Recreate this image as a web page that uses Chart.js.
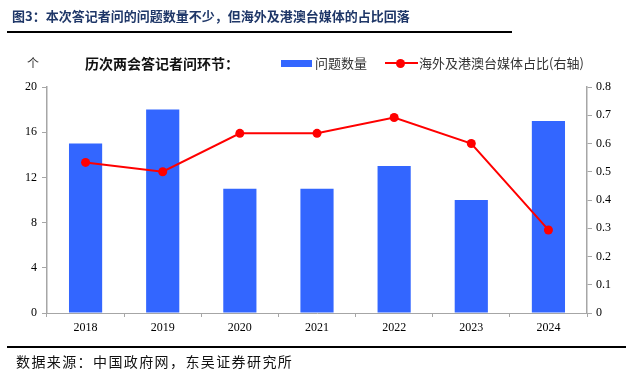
<!DOCTYPE html>
<html><head><meta charset="utf-8">
<script src="https://cdn.jsdelivr.net/npm/chart.js@4/dist/chart.umd.min.js"></script>
<style>
html,body{margin:0;padding:0;background:#fff;}
#wrap{position:relative;width:638px;height:376px;overflow:hidden;font-family:"Noto Sans CJK SC",sans-serif;}
#c{position:absolute;left:0;top:0;}
.abs{position:absolute;white-space:nowrap;}
</style></head><body>
<div id="wrap">
<canvas id="c" width="638" height="376"></canvas>
<div class="abs" style="left:12px;top:6px;font-size:13px;font-weight:bold;color:#1f3768;line-height:20px;">图3：本次答记者问的问题数量不少，但海外及港澳台媒体的占比回落</div>
<div class="abs" style="left:7px;top:31px;width:505px;height:1.5px;background:#000;"></div>
<div class="abs" style="left:7px;top:346px;width:619px;height:2px;background:#000;"></div>
<div class="abs" style="left:16px;top:351px;font-size:14px;color:#111;letter-spacing:1.4px;line-height:20px;">数据来源：中国政府网，东吴证券研究所</div>
<div class="abs" style="left:27px;top:54px;font-size:12px;color:#333;line-height:18px;">个</div>
<div class="abs" style="left:85px;top:53px;font-size:14px;font-weight:bold;color:#111;line-height:20px;">历次两会答记者问环节：</div>
<div class="abs" style="left:281px;top:60px;width:31px;height:7px;background:#3366ff;"></div>
<div class="abs" style="left:315px;top:54px;font-size:13px;color:#333;line-height:18px;">问题数量</div>
<div class="abs" style="left:385px;top:62px;width:33px;height:2px;background:#ff0000;"></div>
<div class="abs" style="left:396px;top:58.5px;width:9px;height:9px;border-radius:50%;background:#ff0000;"></div>
<div class="abs" style="left:419px;top:54px;font-size:13px;color:#333;line-height:18px;">海外及港澳台媒体占比(右轴)</div>
</div>
<script>
const categories = ["2018","2019","2020","2021","2022","2023","2024"];
const questionCounts = [15, 18, 11, 11, 13, 10, 17];
const overseasShare = [0.533, 0.5, 0.636, 0.636, 0.692, 0.6, 0.294];
const leftTicks = [0, 4, 8, 12, 16, 20];
const rightTicks = [0, 0.1, 0.2, 0.3, 0.4, 0.5, 0.6, 0.7, 0.8];

const tickFont = {family: "'Liberation Serif','Times New Roman',serif", size: 12};
const axisColor = '#a6a6a6';

new Chart(document.getElementById('c'), {
  data: {
    labels: categories,
    datasets: [
      {type:'line', label:'海外及港澳台媒体占比(右轴)', data: overseasShare, yAxisID:'y1',
       borderColor:'#ff0000', backgroundColor:'#ff0000', borderWidth:2,
       pointRadius:4.5, pointHoverRadius:4.5, pointBackgroundColor:'#ff0000', pointBorderWidth:0, tension:0, order:0},
      {type:'bar', label:'问题数量', data: questionCounts, yAxisID:'y',
       backgroundColor:'#3366ff', barPercentage:0.86, categoryPercentage:0.5, order:1}
    ]
  },
  options: {
    responsive:false, animation:false,
    layout:{padding:{top:87,left:0,right:0,bottom:0}},
    plugins:{legend:{display:false}, tooltip:{enabled:false}},
    scales:{
      x:{
        offset:true,
        grid:{display:true, drawOnChartArea:false, drawTicks:true, tickLength:4, offset:true, color:axisColor},
        border:{display:true, color:axisColor, width:1},
        ticks:{font:tickFont, color:'#000', padding:4},
        afterFit(s){ s.height = 63; }
      },
      y:{
        position:'left', min:0, max:20,
        afterBuildTicks(s){ s.ticks = leftTicks.map(v=>({value:v})); },
        grid:{display:true, drawOnChartArea:false, drawTicks:true, tickLength:5, color:axisColor},
        border:{display:true, color:axisColor, width:1.5},
        ticks:{font:tickFont, color:'#000', padding:5},
        afterFit(s){ s.width = 47; }
      },
      y1:{
        position:'right', min:0, max:0.8,
        afterBuildTicks(s){ s.ticks = rightTicks.map(v=>({value:v})); },
        grid:{display:true, drawOnChartArea:false, drawTicks:true, tickLength:5, color:axisColor},
        border:{display:true, color:axisColor, width:1.5},
        ticks:{font:tickFont, color:'#000', padding:4, callback:(v)=> v===0 ? '0' : v.toFixed(1)},
        afterFit(s){ s.width = 51; }
      }
    }
  }
});
</script>
</body></html>
